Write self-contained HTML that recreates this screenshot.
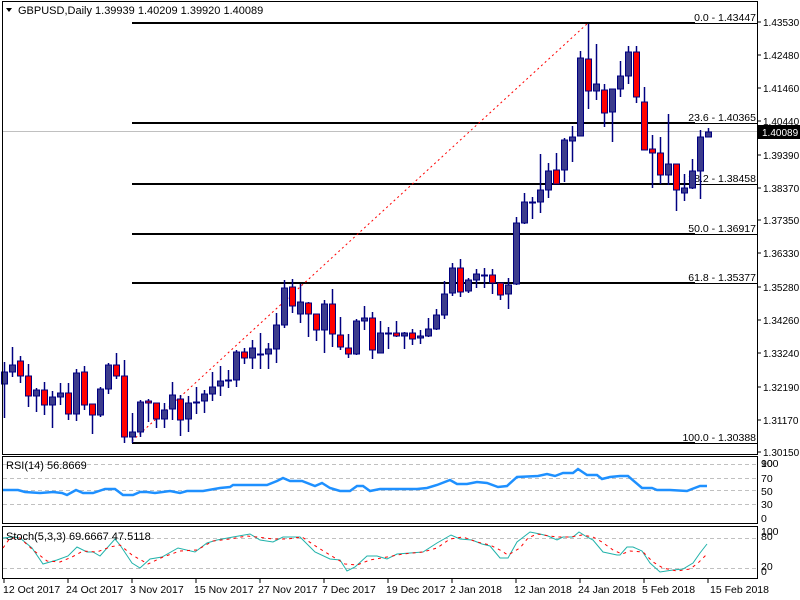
<!DOCTYPE html>
<html><head><meta charset="utf-8"><style>
body{margin:0;background:#fff;width:800px;height:600px;overflow:hidden}
svg{display:block;font-family:"Liberation Sans",sans-serif}
</style></head><body>
<svg id="s" width="800" height="600" xmlns="http://www.w3.org/2000/svg">
<rect x="0" y="0" width="800" height="600" fill="#fff"/>
<line x1="2" y1="131.5" x2="757" y2="131.5" stroke="#c0c0c0" stroke-width="1"/>
<g stroke="#000">
<line x1="132" y1="23" x2="695" y2="23" stroke-width="2"/><line x1="695" y1="23.5" x2="757" y2="23.5" stroke-width="1"/>
<line x1="132" y1="123" x2="695" y2="123" stroke-width="2"/><line x1="695" y1="123.5" x2="757" y2="123.5" stroke-width="1"/>
<line x1="132" y1="184" x2="695" y2="184" stroke-width="2"/><line x1="695" y1="184.5" x2="757" y2="184.5" stroke-width="1"/>
<line x1="132" y1="234" x2="695" y2="234" stroke-width="2"/><line x1="695" y1="234.5" x2="757" y2="234.5" stroke-width="1"/>
<line x1="132" y1="283" x2="695" y2="283" stroke-width="2"/><line x1="695" y1="283.5" x2="757" y2="283.5" stroke-width="1"/>
<line x1="132" y1="443" x2="695" y2="443" stroke-width="2"/><line x1="695" y1="443.5" x2="757" y2="443.5" stroke-width="1"/>
</g>
<line x1="132" y1="441" x2="588" y2="23" stroke="#f00" stroke-width="1" stroke-dasharray="2,3"/>
<g font-size="10.5" fill="#000" text-anchor="end">
<text x="756" y="21">0.0 - 1.43447</text>
<text x="756" y="121">23.6 - 1.40365</text>
<text x="756" y="182">38.2 - 1.38458</text>
<text x="756" y="232">50.0 - 1.36917</text>
<text x="756" y="281">61.8 - 1.35377</text>
<text x="756" y="441">100.0 - 1.30388</text>
</g>
<g id="candles"></g>
<g fill="none" stroke="#000" stroke-width="1">
<rect x="2.5" y="1.5" width="755" height="453"/>
<rect x="2.5" y="456.5" width="755" height="67"/>
<rect x="2.5" y="526.5" width="755" height="52"/>
</g>
<path d="M6,8 L12,8 L9,12 Z" fill="#000"/>
<text x="18" y="14" font-size="11" fill="#000">GBPUSD,Daily  1.39939 1.40209 1.39920 1.40089</text>
<g font-size="10" fill="#000">
<text x="763" y="26">1.43530</text>
<text x="763" y="59">1.42480</text>
<text x="763" y="92">1.41460</text>
<text x="763" y="125">1.40440</text>
<text x="763" y="159">1.39390</text>
<text x="763" y="192">1.38370</text>
<text x="763" y="224">1.37350</text>
<text x="763" y="257">1.36330</text>
<text x="763" y="291">1.35280</text>
<text x="763" y="324">1.34260</text>
<text x="763" y="357">1.33240</text>
<text x="763" y="391">1.32190</text>
<text x="763" y="424">1.31170</text>
<text x="763" y="456">1.30150</text>
</g>
<g stroke="#000"><line x1="757" y1="22" x2="761" y2="22"/><line x1="757" y1="55" x2="761" y2="55"/><line x1="757" y1="88" x2="761" y2="88"/><line x1="757" y1="121" x2="761" y2="121"/><line x1="757" y1="155" x2="761" y2="155"/><line x1="757" y1="188" x2="761" y2="188"/><line x1="757" y1="220" x2="761" y2="220"/><line x1="757" y1="253" x2="761" y2="253"/><line x1="757" y1="287" x2="761" y2="287"/><line x1="757" y1="320" x2="761" y2="320"/><line x1="757" y1="353" x2="761" y2="353"/><line x1="757" y1="387" x2="761" y2="387"/><line x1="757" y1="420" x2="761" y2="420"/><line x1="757" y1="452" x2="761" y2="452"/></g>
<rect x="758" y="125" width="42" height="14" fill="#000"/>
<text x="762" y="136" font-size="10" fill="#fff">1.40089</text>
<g stroke="#c0c0c0" stroke-dasharray="4,3"><line x1="3" y1="464.5" x2="757" y2="464.5"/><line x1="3" y1="478.5" x2="757" y2="478.5"/><line x1="3" y1="490.5" x2="757" y2="490.5"/><line x1="3" y1="504.5" x2="757" y2="504.5"/>
<line x1="3" y1="538.5" x2="757" y2="538.5"/><line x1="3" y1="568.5" x2="757" y2="568.5"/></g>
<polyline fill="none" stroke="#1e90ff" stroke-width="2.5" points="3,490 18,490 25,492 40,493 53,492 62,493 67,495 76,490 83,493 93,493 105,489 115,489 123,495 133,495 140,492 147,492 155,493 170,491 180,493 187,491 203,491 220,488 230,487 233,485 267,485 277,481 283,478 290,481 302,481 315,486 322,483 330,488 340,491 350,491 357,486 363,486 370,491 380,489 403,489 417,489 427,488 437,485 450,480 457,484 467,484 477,482 487,483 498,487 507,486 517,477 538,476 547,474 555,476 563,473 573,473 578,469 587,475 597,475 602,479 610,477 620,476 628,476 642,488 652,488 657,490 670,490 687,491 692,489 700,486 707,486"/>
<text x="6" y="469" font-size="11" fill="#000">RSI(14) 56.8669</text>
<g font-size="10.5" fill="#000"><text x="761" y="467">100</text><text x="761" y="467">90</text><text x="761" y="482">70</text><text x="761" y="495">50</text><text x="761" y="508">30</text><text x="761" y="522">0</text></g>
<polyline fill="none" stroke="#20b2aa" stroke-width="1" points="3,538 13,537 20,538 32,548 43,564 57,560 68,556 77,547 87,552 93,552 100,556 115,539 120,545 132,563 140,568 150,559 162,557 178,548 195,552 207,543 217,540 233,537 250,534 260,540 273,542 283,537 300,537 315,552 330,559 340,560 347,571 355,567 367,556 377,556 387,559 397,554 423,552 437,543 451,535 460,539 472,540 482,544 490,546 500,558 508,558 517,542 530,532 540,534 548,536 557,540 563,537 573,537 579,532 587,537 593,540 603,552 617,555 620,555 627,547 633,547 642,551 650,563 660,572 673,570 683,569 693,563 700,553 707,544"/>
<polyline fill="none" stroke="#f00" stroke-width="1" stroke-dasharray="3,4" points="3,548 10,538 20,538 33,550 47,561 60,562 72,557 83,551 97,552 110,547 120,545 132,555 148,564 163,557 180,551 197,550 213,541 230,539 247,536 257,537 273,539 287,539 302,537 317,547 330,555 345,564 357,565 370,560 387,557 403,554 423,552 437,548 450,539 463,537 477,542 490,545 500,550 508,555 520,548 528,538 537,534 550,536 557,537 570,537 582,535 593,537 602,542 613,550 622,554 630,551 643,552 653,562 663,568 677,571 690,569 698,563 707,554"/>
<text x="6" y="540" font-size="11" fill="#000">Stoch(5,3,3) 69.6667 47.5118</text>
<g font-size="10.5" fill="#000"><text x="761" y="535">100</text><text x="761" y="540">80</text><text x="761" y="570">20</text><text x="761" y="575">0</text></g>
<g stroke="#000"><line x1="4" y1="579" x2="4" y2="583"/><line x1="68" y1="579" x2="68" y2="583"/><line x1="132" y1="579" x2="132" y2="583"/><line x1="196" y1="579" x2="196" y2="583"/><line x1="260" y1="579" x2="260" y2="583"/><line x1="324" y1="579" x2="324" y2="583"/><line x1="388" y1="579" x2="388" y2="583"/><line x1="452" y1="579" x2="452" y2="583"/><line x1="516" y1="579" x2="516" y2="583"/><line x1="580" y1="579" x2="580" y2="583"/><line x1="644" y1="579" x2="644" y2="583"/><line x1="708" y1="579" x2="708" y2="583"/></g>
<g font-size="10.5" fill="#000">
<text x="3" y="593">12 Oct 2017</text><text x="66" y="593">24 Oct 2017</text><text x="130" y="593">3 Nov 2017</text><text x="194" y="593">15 Nov 2017</text><text x="258" y="593">27 Nov 2017</text><text x="322" y="593">7 Dec 2017</text><text x="386" y="593">19 Dec 2017</text><text x="450" y="593">2 Jan 2018</text><text x="514" y="593">12 Jan 2018</text><text x="578" y="593">24 Jan 2018</text><text x="642" y="593">5 Feb 2018</text><text x="710" y="593">15 Feb 2018</text>
</g>
</svg>
<script>
(function(){
var d=[[384,372,362,418],[372,365,347,377],[361,376,356,383],[376,396,364,407],[396,390,388,412],[390,405,382,415],[405,397,391,428],[397,393,383,405],[393,414,383,420],[414,373,369,421],[372,405,366,410],[404,415,404,434],[415,389,387,417],[389,365,363,394],[365,376,353,379],[376,437,360,443],[437,432,413,443],[432,402,400,437],[401,403,399,422],[403,419,403,428],[419,410,403,428],[409,395,382,420],[399,420,395,436],[419,403,396,432],[403,402,387,414],[401,394,390,413],[394,387,372,401],[386,381,366,396],[381,380,370,388],[380,352,350,387],[352,358,348,364],[358,348,340,369],[354,354,333,369],[354,349,343,369],[349,325,313,363],[325,288,280,328],[287,306,279,313],[314,302,284,323],[303,314,302,337],[314,330,314,341],[330,304,300,353],[304,334,289,347],[335,347,317,350],[348,354,334,358],[354,321,319,355],[321,318,306,330],[318,350,312,359],[353,333,321,353],[333,333,327,349],[333,336,321,337],[336,333,332,349],[333,339,329,345],[338,336,330,344],[336,329,318,337],[329,315,309,330],[315,294,281,319],[293,268,263,296],[268,292,259,297],[291,280,278,293],[280,274,269,288],[276,275,268,288],[275,283,269,294],[283,295,283,300],[294,285,278,309],[284,223,217,285],[223,202,193,224],[203,202,197,219],[202,190,154,213],[190,171,163,198],[170,184,153,184],[170,140,138,182],[141,137,126,162],[136,58,51,136],[59,91,24,109],[91,84,44,100],[90,113,84,127],[112,89,89,142],[89,76,61,97],[76,52,46,84],[52,97,46,103],[102,150,87,150],[149,153,135,188],[153,175,137,184],[175,164,114,185],[164,190,164,211],[193,188,174,201],[188,171,159,189],[171,137,130,199],[137,132,128,137]];
var NS="http://www.w3.org/2000/svg";
var g=document.getElementById('candles');
function el(n,a){var e=document.createElementNS(NS,n);for(var k in a)e.setAttribute(k,a[k]);g.appendChild(e);}
for(var i=0;i<d.length;i++){var c=d[i],x=4+8*i,o=c[0],cl=c[1],top=Math.min(o,cl),b=Math.max(o,cl);
var bull=cl<=o;
el('line',{x1:x+0.5,y1:c[2],x2:x+0.5,y2:c[3],stroke:'#000080','stroke-width':1.5});
el('rect',{x:x-2.5,y:top,width:6,height:Math.max(1,b-top),fill:bull?'#3c3c8c':'#ff0000',stroke:'#000080','stroke-width':1});}
})();
</script>
</body></html>
